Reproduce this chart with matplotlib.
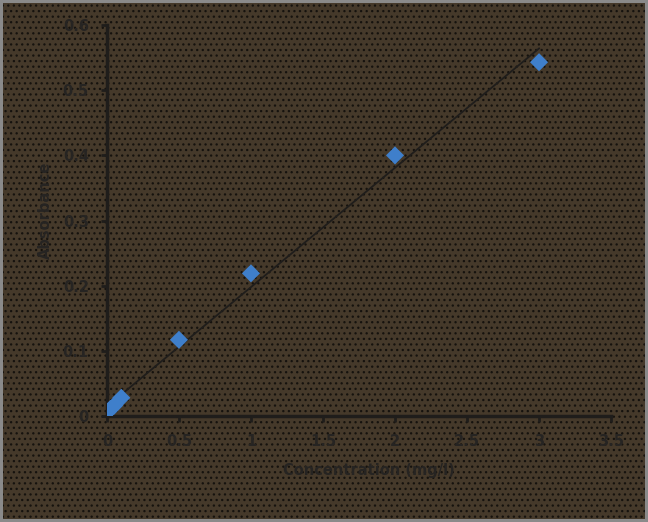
import matplotlib.pyplot as plt
import numpy as np
from matplotlib.patches import Rectangle

# calibration data
concentration = [0.0, 0.025, 0.05, 0.1, 0.5, 1.0, 2.0, 3.0]
absorbance = [0.006, 0.011, 0.016, 0.028, 0.117, 0.219, 0.400, 0.543]
x_ticks = [0, 0.5, 1, 1.5, 2, 2.5, 3, 3.5]
y_ticks = [0, 0.1, 0.2, 0.3, 0.4, 0.5, 0.6]

bg = "#45392a"
ink = "#1f1d1b"
text_col = "#262422"

plt.rcParams["hatch.linewidth"] = 0.9
fig = plt.figure(figsize=(6.48, 5.22), dpi=100, facecolor="#8a8a8a")
# textured background panel
fig.patches.append(Rectangle((0.005, 0.006), 0.99, 0.988, transform=fig.transFigure,
                             facecolor=bg, edgecolor="#15120e", hatch="...",
                             linewidth=0, zorder=-10))

ax = fig.add_axes([0.165, 0.203, 0.778, 0.749])
ax.patch.set_alpha(0)

slope, intercept = np.polyfit(concentration, absorbance, 1)
xs = np.array([0.0, 3.0])
ax.plot(xs, slope * xs + intercept, color=ink, linewidth=1.3, zorder=2)
ax.scatter(concentration, absorbance, marker="D", s=85, color="#3f7fcb",
           edgecolors="none", zorder=3)

ax.set_xlim(0, 3.5)
ax.set_ylim(0, 0.6)
ax.set_xticks(x_ticks)
ax.set_xticklabels([f"{v:g}" for v in x_ticks])
ax.set_yticks(y_ticks)
ax.set_yticklabels([f"{v:g}" for v in y_ticks])

for side in ("top", "right"):
    ax.spines[side].set_visible(False)
for side in ("left", "bottom"):
    ax.spines[side].set_color(ink)
    ax.spines[side].set_linewidth(2.5)

ax.tick_params(direction="out", length=4, width=2, color=ink,
               labelcolor=text_col, labelsize=10.5, pad=9)
for lab in ax.get_xticklabels() + ax.get_yticklabels():
    lab.set_fontweight("semibold")

ax.set_xlabel("Concentration (mg/l)", color=text_col, fontsize=10.5,
              fontweight="semibold")
ax.set_ylabel("Absorbance", color=text_col, fontsize=10.5,
              fontweight="semibold")
ax.xaxis.set_label_coords(0.52, -0.12)
ax.yaxis.set_label_coords(-0.107, 0.527)

fig.savefig("out.png", dpi=100, facecolor=fig.get_facecolor())
